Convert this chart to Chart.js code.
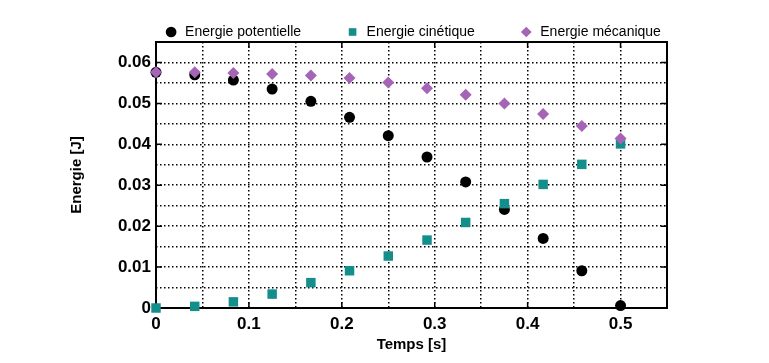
<!DOCTYPE html>
<html>
<head>
<meta charset="utf-8">
<script src="https://cdn.jsdelivr.net/npm/chart.js@4.4.0/dist/chart.umd.min.js"></script>
<style>
html,body{margin:0;padding:0;background:#fff;}
#wrap{width:769px;height:363px;position:relative;}
</style>
</head>
<body>
<div id="wrap"><canvas id="c" width="769" height="363"></canvas></div>
<script>
const times = [0, 0.0417, 0.0833, 0.125, 0.1667, 0.2083, 0.25, 0.2917, 0.3333, 0.375, 0.4167, 0.4583, 0.5];
const potentielle = [0.0576, 0.0570, 0.0557, 0.0535, 0.0505, 0.0466, 0.0421, 0.0369, 0.0308, 0.0241, 0.0170, 0.0091, 0.0006];
const cinetique = [0.0000, 0.0004, 0.0015, 0.0034, 0.0062, 0.0091, 0.0127, 0.0166, 0.0209, 0.0255, 0.0302, 0.0351, 0.0401];
const mecanique = [0.0576, 0.0576, 0.0574, 0.0572, 0.0568, 0.0562, 0.0551, 0.0537, 0.0521, 0.0500, 0.0474, 0.0445, 0.0414];
const seriesNames = ['Energie potentielle', 'Energie cinétique', 'Energie mécanique'];
const xTickLabels = ['0', '0.1', '0.2', '0.3', '0.4', '0.5'];
const yTickLabels = ['0', '0.01', '0.02', '0.03', '0.04', '0.05', '0.06'];

const pts = arr => times.map((t, i) => ({x: t, y: arr[i]}));

function labelFor(value, list, step) {
  const k = Math.round(value / step);
  if (Math.abs(value - k * step) > step * 1e-3) return '';
  return list[k] !== undefined ? list[k] : '';
}

const legendFit = {
  id: 'legendFit',
  beforeInit(chart) {
    const orig = chart.legend.fit;
    chart.legend.fit = function () { orig.call(this); this.height = 42; };
  },
  afterLayout(chart) {
    const lg = chart.legend;
    lg.top = -19.5; lg.bottom = 42; lg.height = lg.bottom - lg.top;
    lg.left = 78; lg.right = 747; lg.width = lg.right - lg.left;
  }
};

const frame = {
  id: 'frame',
  beforeDatasetsDraw(chart) {
    const {ctx, chartArea: a, scales: {x, y}} = chart;
    ctx.save();
    ctx.strokeStyle = '#000';
    ctx.lineWidth = 1.5;
    ctx.beginPath();
    const tl = 6;
    for (let v = 0.01; v < 0.0649; v += 0.01) {
      const py = y.getPixelForValue(v);
      ctx.moveTo(a.left, py); ctx.lineTo(a.left + tl, py);
      ctx.moveTo(a.right, py); ctx.lineTo(a.right - tl, py);
    }
    for (let v = 0.1; v < 0.549; v += 0.1) {
      const px = x.getPixelForValue(v);
      ctx.moveTo(px, a.bottom); ctx.lineTo(px, a.bottom - tl);
      ctx.moveTo(px, a.top); ctx.lineTo(px, a.top + tl);
    }
    ctx.stroke();
    ctx.lineWidth = 2;
    ctx.strokeRect(a.left, a.top, a.right - a.left, a.bottom - a.top);
    ctx.restore();
  }
};

new Chart(document.getElementById('c'), {
  type: 'scatter',
  data: {
    datasets: [
      {label: seriesNames[0], data: pts(potentielle), pointStyle: 'circle', pointRadius: 5.5, clip: false, order: 3,
       backgroundColor: '#000', borderColor: '#000', borderWidth: 0},
      {label: seriesNames[1], data: pts(cinetique), pointStyle: 'rect', pointRadius: 6.7, clip: false, order: 2,
       backgroundColor: '#148e8a', borderColor: '#148e8a', borderWidth: 0},
      {label: seriesNames[2], data: pts(mecanique), pointStyle: 'rectRot', pointRadius: 6, clip: false, order: 1,
       backgroundColor: '#a664b6', borderColor: '#a664b6', borderWidth: 0}
    ]
  },
  options: {
    responsive: false,
    animation: false,
    events: [],
    layout: {padding: {left: 0, right: 102, top: 0, bottom: 0}},
    plugins: {
      tooltip: {enabled: false},
      legend: {
        position: 'top',
        labels: {
          usePointStyle: true,
          boxWidth: 14,
          boxHeight: 7.6,
          padding: 44.5,
          color: '#000',
          sort: (a, b) => a.datasetIndex - b.datasetIndex,
          font: {family: '"Liberation Sans", Arial, sans-serif', size: 14}
        }
      }
    },
    scales: {
      x: {
        type: 'linear', min: 0, max: 0.55,
        afterFit(s) { s.height = 55; },
        ticks: {stepSize: 0.05, autoSkip: false, maxRotation: 0, padding: 6, color: '#000',
          font: {family: '"Liberation Sans", Arial, sans-serif', size: 17, weight: 'bold'},
          callback: v => labelFor(v, xTickLabels, 0.1)},
        grid: {color: '#000', lineWidth: 1.5, drawTicks: false},
        border: {display: false, dash: [1.5, 2.5]},
        title: {display: true, text: 'Temps [s]', color: '#000', padding: {top: 0, bottom: 9},
          font: {family: '"Liberation Sans", Arial, sans-serif', size: 15, weight: 'bold'}}
      },
      y: {
        type: 'linear', min: 0, max: 0.065,
        afterFit(s) { s.width = 156; },
        ticks: {stepSize: 0.005, autoSkip: false, padding: 5, color: '#000',
          font: {family: '"Liberation Sans", Arial, sans-serif', size: 17, weight: 'bold'},
          callback: v => labelFor(v, yTickLabels, 0.01)},
        grid: {color: '#000', lineWidth: 1.5, drawTicks: false},
        border: {display: false, dash: [1.5, 2.5]},
        title: {display: true, text: 'Energie [J]', color: '#000', padding: {top: 68, bottom: 0},
          font: {family: '"Liberation Sans", Arial, sans-serif', size: 15, weight: 'bold'}}
      }
    }
  },
  plugins: [legendFit, frame]
});
</script>
</body>
</html>
